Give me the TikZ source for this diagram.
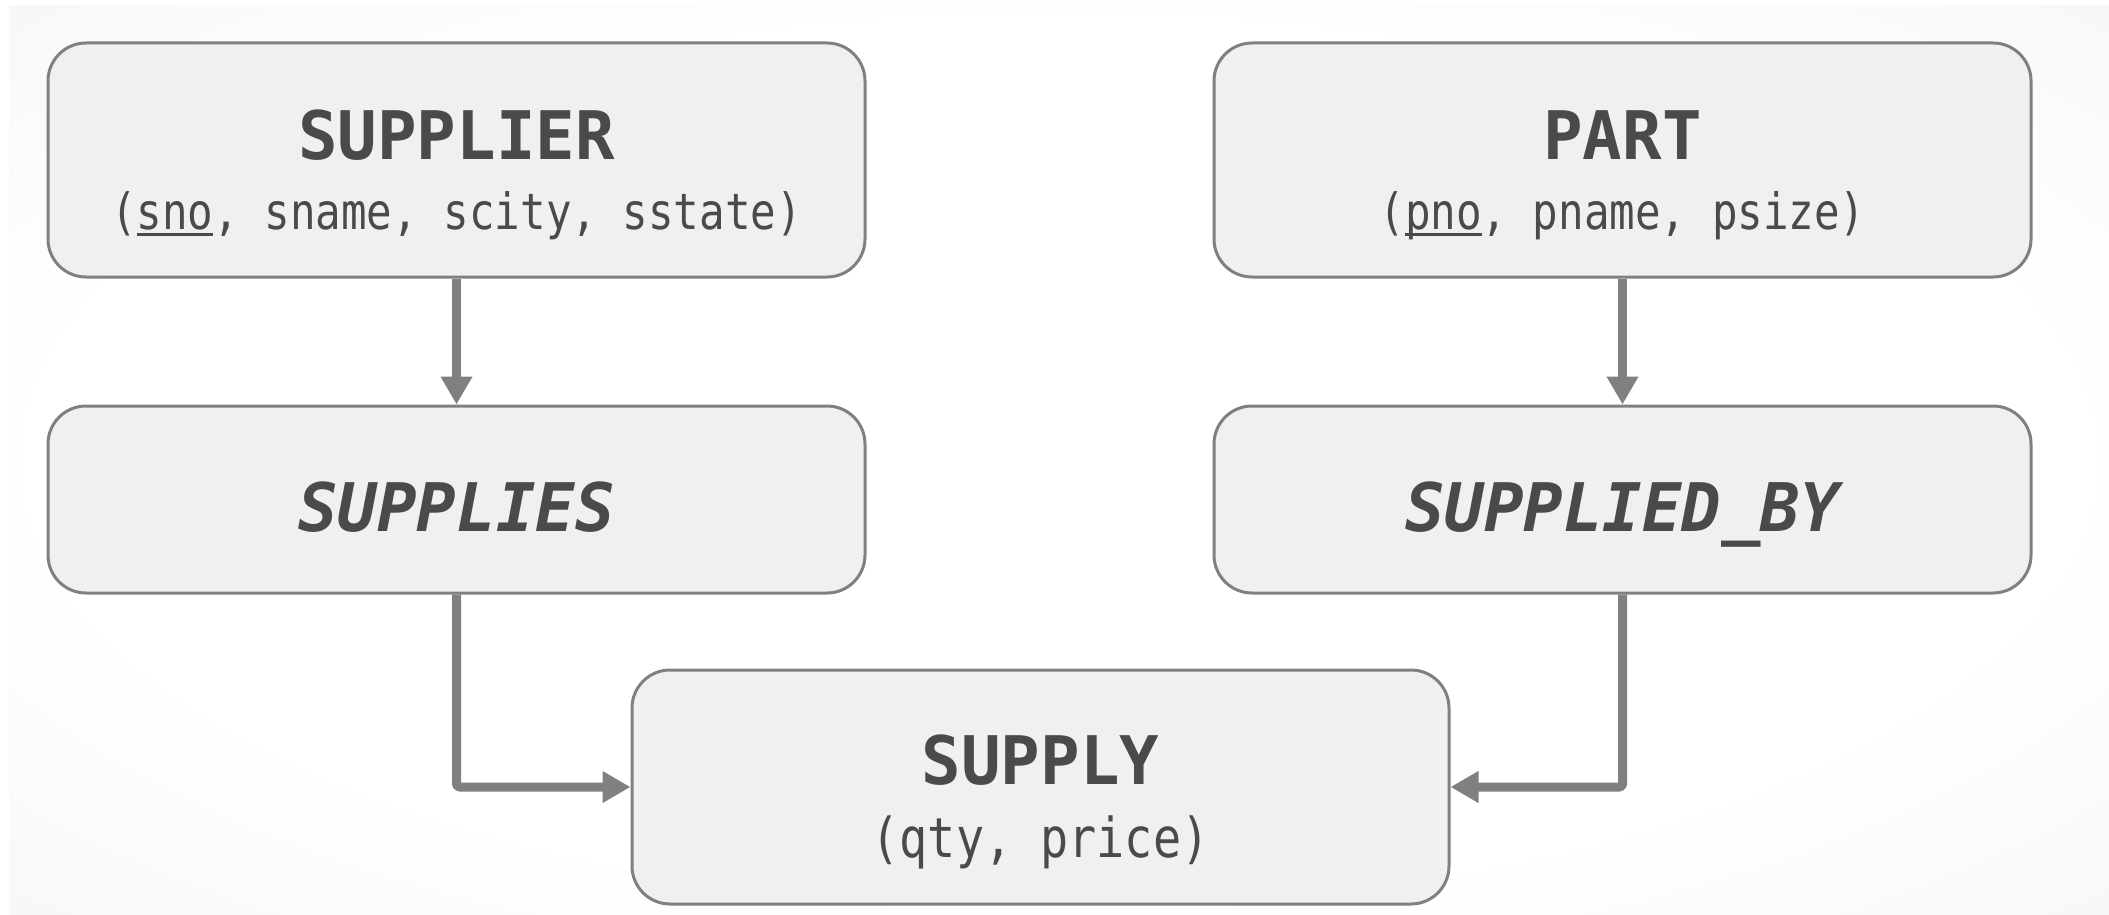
\documentclass[tikz,border=0pt]{standalone}
\usepackage{fontspec}
\usetikzlibrary{arrows.meta}

% narrow monospaced faces for entity names and attribute lists
\newfontfamily\headfont[FakeStretch=0.98,BoldFont={* Bold},BoldItalicFont={* Bold Oblique}]{DejaVu Sans Mono}
\newfontfamily\attrfont[FakeStretch=0.85]{DejaVu Sans Mono}

\definecolor{boxfill}{HTML}{F0F0F0}
\definecolor{boxline}{HTML}{808080}
\definecolor{ink}{HTML}{4A4A4A}
\definecolor{bgedge}{HTML}{F1F1F1}

% soft page background: white centre, pale grey rim
\pgfdeclareradialshading{vignette}{\pgfpoint{0bp}{0bp}}{%
  color(0bp)=(white); color(24bp)=(white); color(46bp)=(bgedge); color(75bp)=(bgedge)}

% key attribute: underline set at a fixed depth below the baseline
\newcommand\keyattr[1]{\setbox0=\hbox{#1}\rlap{\rule[-0.13em]{\wd0}{0.05em}}\box0}

\begin{document}
\begin{tikzpicture}[x=1pt,y=-1pt,
  entity/.style={draw=boxline, fill=boxfill, line width=3pt, rounded corners=38pt,
                 minimum width=817pt, minimum height=234pt, inner sep=0pt},
  relship/.style={entity, minimum height=187pt},
  headtext/.style={text=ink, font=\headfont\bfseries\fontsize{67}{70}\selectfont,
                   anchor=base, inner sep=0pt},
  reltext/.style={text=ink, font=\headfont\bfseries\itshape\fontsize{67}{70}\selectfont,
                  anchor=base, inner sep=0pt},
  attrtext/.style={text=ink, font=\attrfont\fontsize{50}{60}\selectfont,
                   anchor=base, inner sep=0pt},
  bigattrtext/.style={attrtext, font=\attrfont\fontsize{55}{62}\selectfont},
  link/.style={draw=boxline, line width=9pt, line join=round, rounded corners=3pt,
               -{Triangle[width=30pt,length=28pt]}}]

  \useasboundingbox (0,0) rectangle (2109,915);
  \fill[white] (0,0) rectangle (2109,915);
  \shade[shading=vignette] (9,6) rectangle (2109,915);

  % entities
  \node[entity] (supplier) at (456.5,160) {};
  \node[headtext] (supplierName) at (456.5,159) {SUPPLIER};
  \node[attrtext] (supplierAttrs) at (456.5,229) {(\keyattr{sno}, sname, scity, sstate)};

  \node[entity] (part) at (1622.5,160) {};
  \node[headtext] (partName) at (1622.5,159) {PART};
  \node[attrtext] (partAttrs) at (1622.5,229) {(\keyattr{pno}, pname, psize)};

  % relationships
  \node[relship] (supplies) at (456.5,499.5) {};
  \node[reltext] (suppliesName) at (456.5,531) {SUPPLIES};

  \node[relship] (suppliedby) at (1622.5,499.5) {};
  \node[reltext] (suppliedbyName) at (1622.5,531) {SUPPLIED\_BY};

  % associative entity
  \node[entity] (supply) at (1040.5,787) {};
  \node[headtext] (supplyName) at (1040.5,784) {SUPPLY};
  \node[bigattrtext] (supplyAttrs) at (1040.5,857) {(qty, price)};

  % connectors
  \draw[link] (supplier) -- (supplies);
  \draw[link] (part) -- (suppliedby);
  \draw[link] (supplies.south) |- (supply.west);
  \draw[link] (suppliedby.south) |- (supply.east);
\end{tikzpicture}
\end{document}
